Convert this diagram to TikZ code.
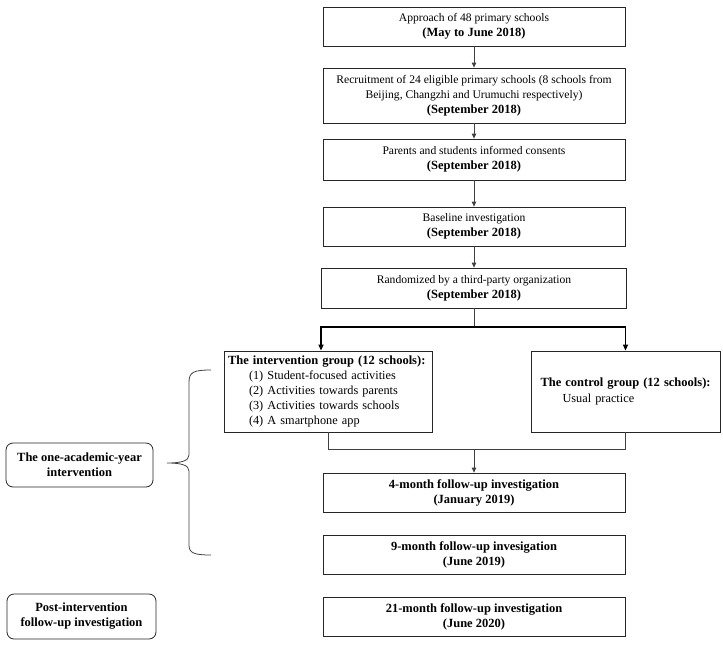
\documentclass[tikz,border=0pt]{standalone}
\usepackage{fontspec}
\setmainfont{Liberation Serif}
\usetikzlibrary{arrows.meta}
\newcommand\mybf[1]{{\fontsize{12.5}{15}\selectfont\bfseries #1}}
\begin{document}
\begin{tikzpicture}[x=1pt,y=-1pt,
  every node/.style={font=\fontsize{11.6}{15}\selectfont},
  box/.style={draw=black!85,line width=0.8pt,inner sep=0pt,align=center},
  gbox/.style={draw=black!85,line width=0.8pt,inner sep=0pt,align=left,font=\fontsize{12.3}{15.2}\selectfont},
  lbox/.style={draw=black!85,line width=0.8pt,inner sep=0pt,align=center,rounded corners=7pt},
  conn/.style={draw=black!75,line width=0.8pt},
  arr/.style={conn,-{Triangle[length=5pt,width=4.5pt]}},
  splitarr/.style={draw=black,line width=1.5pt,-{Triangle[length=6pt,width=5pt]}}
]
\useasboundingbox (0,0) rectangle (723,646);

\node[box,minimum width=302pt,minimum height=39pt] (b1) at (474,26.5)
  {Approach of 48 primary schools\\\mybf{(May to June 2018)}};
\node[box,minimum width=302pt,minimum height=55pt] (b2) at (474,95.5)
  {Recruitment of 24 eligible primary schools (8 schools from\\Beijing, Changzhi and Urumuchi respectively)\\\mybf{(September 2018)}};
\node[box,minimum width=302pt,minimum height=41pt] (b3) at (474,159.5)
  {Parents and students informed consents\\\mybf{(September 2018)}};
\node[box,minimum width=302pt,minimum height=39pt] (b4) at (474,226.5)
  {Baseline investigation\\\mybf{(September 2018)}};
\node[box,minimum width=305pt,minimum height=40pt] (b5) at (474,288)
  {Randomized by a third-party organization\\\mybf{(September 2018)}};

\node[gbox,minimum width=208pt,minimum height=81pt,text width=200pt] (left) at (328,391.5)
  {\mybf{The intervention group (12 schools):}\\
   \hspace*{21pt}(1) Student-focused activities\\
   \hspace*{21pt}(2) Activities towards parents\\
   \hspace*{21pt}(3) Activities towards schools\\
   \hspace*{21pt}(4) A smartphone app};
\node[gbox,minimum width=189pt,minimum height=81pt,text width=170pt] (right) at (625.5,391.5)
  {\mbox{\mybf{The control group (12 schools):}}\\
   \hspace*{22pt}Usual practice};

\node[box,minimum width=302pt,minimum height=39pt] (f4) at (474,492.5)
  {\mybf{4-month follow-up investigation}\\\mybf{(January 2019)}};
\node[box,minimum width=302pt,minimum height=39pt] (f9) at (474,554.5)
  {\mybf{9-month follow-up invesigation}\\\mybf{(June 2019)}};
\node[box,minimum width=302pt,minimum height=39pt] (f21) at (474,616.5)
  {\mybf{21-month follow-up investigation}\\\mybf{(June 2020)}};

\node[lbox,minimum width=147pt,minimum height=44pt] (lab1) at (79.5,465)
  {\mybf{The one-academic-year}\\\mybf{intervention}};
\node[lbox,minimum width=149pt,minimum height=45pt] (lab2) at (81.5,616.5)
  {\mybf{Post-intervention}\\\mybf{follow-up investigation}};

% main chain
\draw[arr] (b1.south) -- (b2.north);
\draw[arr] (b2.south) -- (b3.north);
\draw[arr] (b3.south) -- (b4.north);
\draw[arr] (b4.south) -- (b5.north);

% split
\coordinate (sp) at (474,327);
\draw[conn] (b5.south) -- (sp);
\draw[splitarr] (sp) -| ([xshift=-7pt]left.north);
\draw[splitarr] (sp) -| (right.north);

% merge
\coordinate (mg) at (474,449);
\draw[conn] (left.south) -- (left.south |- mg) -- (right.south |- mg) -- (right.south);
\draw[arr] (mg) -- (f4.north);

% brace
\draw[conn] (211,370) .. controls (194,370) and (189,372) .. (189,382)
  -- (189,455) .. controls (189,461) and (181,463) .. (167,463)
  .. controls (181,463) and (189,465) .. (189,471)
  -- (189,545) .. controls (189,553) and (194,555) .. (211,555);
\end{tikzpicture}
\end{document}
